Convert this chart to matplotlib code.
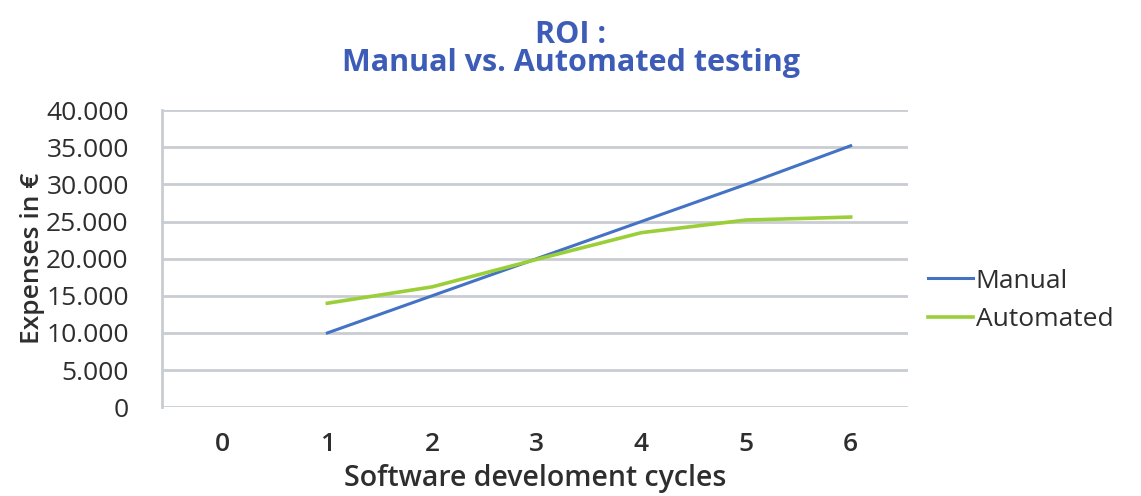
import numpy as np
import matplotlib.pyplot as plt

# values
cycles = [1, 2, 3, 4, 5, 6]
manual = [10000, 15000, 20000, 25000, 30000, 35200]
automated = [14000, 16200, 19900, 23500, 25200, 25600]
x_ticks = [0, 1, 2, 3, 4, 5, 6]
y_ticks = [0, 5000, 10000, 15000, 20000, 25000, 30000, 35000, 40000]

plt.rcParams['font.family'] = ['Open Sans', 'DejaVu Sans']

BLUE = "#4472c4"
GREEN = "#9bcf3a"
TITLE = "#3d5cb8"
TEXT = "#2e2e2e"
GRID = "#c9cdd2"

fig = plt.figure(figsize=(11.41, 4.96), dpi=100)
ax = fig.add_axes([0.142, 0.179, 0.654, 0.599])

ax.plot(cycles, manual, color=BLUE, lw=2.2, label="Manual")
ax.plot(cycles, automated, color=GREEN, lw=2.6, label="Automated")

ax.set_xlim(-0.58, 6.55)
ax.set_ylim(0, 40000)
ax.set_xticks(x_ticks)
ax.set_yticks(y_ticks)
ax.set_yticklabels([f"{v:,}".replace(",", ".") for v in y_ticks])
ax.tick_params(axis="both", length=0, labelsize=19, colors=TEXT)
ax.tick_params(axis="y", pad=24)
ax.tick_params(axis="x", pad=18)
for lab in ax.get_xticklabels():
    lab.set_fontweight("semibold")

ax.grid(axis="y", color=GRID, lw=2)
ax.set_axisbelow(True)
for s in ["top", "right", "bottom"]:
    ax.spines[s].set_visible(False)
ax.spines["left"].set_color(GRID)
ax.spines["left"].set_linewidth(2)

ax.set_xlabel("Software develoment cycles", fontsize=20.5, fontweight="semibold",
              color=TEXT, labelpad=5)
ax.set_ylabel("Expenses in €", fontsize=19, fontweight="semibold", color=TEXT,
              labelpad=1)

fig.text(0.5, 0.93, "ROI :", ha="center", va="center", fontsize=22,
         fontweight="bold", color=TITLE)
fig.text(0.5, 0.872, "Manual vs. Automated testing", ha="center", va="center",
         fontsize=22, fontweight="bold", color=TITLE)

ax.legend(loc="center left", bbox_to_anchor=(0.995, 0.36), frameon=False,
          fontsize=19, handlelength=1.7, handletextpad=0.1, labelspacing=0.5,
          labelcolor=TEXT)

fig.savefig("out.png", dpi=100)
